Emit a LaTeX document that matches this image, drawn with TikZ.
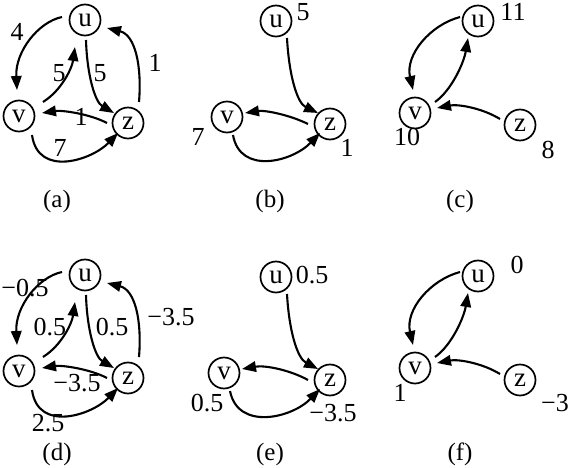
\documentclass[tikz,border=0pt]{standalone}
\usepackage{fontspec}
\setmainfont{Liberation Serif}
\usetikzlibrary{arrows.meta,calc}
\newcommand\vl[1]{\raisebox{-3pt}{#1}}
\begin{document}
\begin{tikzpicture}[x=1pt,y=-1pt,
  vtx/.style={circle,draw,line width=1.7pt,minimum size=31pt,inner sep=0pt,font=\fontsize{27}{28}\selectfont},
  edge/.style={line width=2.1pt,-{Triangle[length=14pt,width=10.5pt]}},
  lbl/.style={inner sep=0pt,font=\fontsize{26}{28}\selectfont},
  capt/.style={inner sep=0pt,font=\fontsize{25}{27}\selectfont}]
\useasboundingbox (0,0) rectangle (568,468);
% ---------- (a) ----------
\begin{scope}
\node[vtx] (ua) at (85,20) {\vl{u}};
\node[vtx] (va) at (19,116) {\vl{v}};
\node[vtx] (za) at (128,123) {\vl{z}};
\draw[edge] ($(ua)+(-23,-3)$) .. controls (38,22) and (15,52) .. ($(va)+(-2,-26)$);
\draw[edge] ($(va)+(24,-14)$) .. controls (62,90) and (72,68) .. ($(ua)+(-10,27)$);
\draw[edge] ($(ua)+(1,20)$) .. controls (87,75) and (95,102) .. ($(za)+(-14,-10)$);
\draw[edge] ($(za)+(11,-21)$) .. controls (142,65) and (135,35) .. ($(ua)+(22,8)$);
\draw[edge] ($(za)+(-21,0)$) .. controls (90,114) and (62,110) .. ($(va)+(23,-3)$);
\draw[edge] ($(va)+(13,19)$) .. controls (38,178) and (92,160) .. ($(za)+(-10,10)$);
\node[lbl] (la1) at (17,32) {4};
\node[lbl] (la2) at (59,73) {5};
\node[lbl] (la3) at (100,73) {5};
\node[lbl] (la4) at (155,63) {1};
\node[lbl] (la5) at (81,117) {1};
\node[lbl] (la6) at (60,148) {7};
\node[capt] (ca) at (57,201) {(a)};
\end{scope}
% ---------- (b) ----------
\begin{scope}[shift={(190,0)}]
\node[vtx] (ub) at (86,21) {\vl{u}};
\node[vtx] (vb) at (37,117) {\vl{v}};
\node[vtx] (zb) at (140,124) {\vl{z}};
\draw[edge] ($(ub)+(11,17)$) .. controls (99,75) and (107,103) .. ($(zb)+(-12,-11)$);
\draw[edge] ($(zb)+(-22,0)$) .. controls (100,115) and (75,110) .. ($(vb)+(18,-4)$);
\draw[edge] ($(vb)+(6,18)$) .. controls (50,175) and (102,162) .. ($(zb)+(-10,9)$);
\node[lbl] (lb1) at (113,12) {5};
\node[lbl] (lb2) at (8,137) {7};
\node[lbl] (lb3) at (157,148) {1};
\node[capt] (cb) at (80,201) {(b)};
\end{scope}
% ---------- (c) ----------
\begin{scope}[shift={(380,0)}]
\node[vtx] (uc) at (98,21) {\vl{u}};
\node[vtx] (vc) at (35,113) {\vl{v}};
\node[vtx] (zc) at (140,125) {\vl{z}};
\draw[edge] ($(uc)+(-18,-4)$) .. controls (50,25) and (25,55) .. ($(vc)+(-2,-23)$);
\draw[edge] ($(vc)+(20,-11)$) .. controls (72,90) and (84,62) .. ($(uc)+(-10,17)$);
\draw[edge] ($(zc)+(-20,-6)$) .. controls (102,108) and (78,104) .. ($(vc)+(22,-5)$);
\node[lbl] (lc1) at (133,12) {11};
\node[lbl] (lc2) at (27,137) {10};
\node[lbl] (lc3) at (168,150) {8};
\node[capt] (cc) at (80,201) {(c)};
\end{scope}
% ---------- (d) ----------
\begin{scope}[shift={(0,255)}]
\node[vtx] (ud) at (85,20) {\vl{u}};
\node[vtx] (vd) at (19,116) {\vl{v}};
\node[vtx] (zd) at (128,123) {\vl{z}};
\draw[edge] ($(ud)+(-23,-3)$) .. controls (38,22) and (15,52) .. ($(vd)+(-2,-26)$);
\draw[edge] ($(vd)+(24,-14)$) .. controls (62,90) and (72,68) .. ($(ud)+(-10,27)$);
\draw[edge] ($(ud)+(1,20)$) .. controls (87,75) and (95,102) .. ($(zd)+(-14,-10)$);
\draw[edge] ($(zd)+(11,-21)$) .. controls (142,65) and (135,35) .. ($(ud)+(22,8)$);
\draw[edge] ($(zd)+(-21,0)$) .. controls (90,114) and (62,110) .. ($(vd)+(23,-3)$);
\draw[edge] ($(vd)+(13,19)$) .. controls (38,178) and (92,160) .. ($(zd)+(-10,10)$);
\node[lbl] (ld1) at (25,33) {−0.5};
\node[lbl] (ld2) at (50,72) {0.5};
\node[lbl] (ld3) at (112,72) {0.5};
\node[lbl] (ld4) at (171,62) {−3.5};
\node[lbl] (ld5) at (77,128) {−3.5};
\node[lbl] (ld6) at (48,168) {2.5};
\node[capt] (cd) at (57,199) {(d)};
\end{scope}
% ---------- (e) ----------
\begin{scope}[shift={(190,255)}]
\node[vtx] (ue) at (86,22) {\vl{u}};
\node[vtx] (ve) at (34,118) {\vl{v}};
\node[vtx] (ze) at (140,125) {\vl{z}};
\draw[edge] ($(ue)+(11,17)$) .. controls (99,75) and (107,103) .. ($(ze)+(-12,-11)$);
\draw[edge] ($(ze)+(-22,0)$) .. controls (100,115) and (75,110) .. ($(ve)+(18,-4)$);
\draw[edge] ($(ve)+(6,18)$) .. controls (48,176) and (102,163) .. ($(ze)+(-10,9)$);
\node[lbl] (le1) at (122,20) {0.5};
\node[lbl] (le2) at (17,148) {0.5};
\node[lbl] (le3) at (143,158) {−3.5};
\node[capt] (ce) at (80,199) {(e)};
\end{scope}
% ---------- (f) ----------
\begin{scope}[shift={(380,255)}]
\node[vtx] (uf) at (98,21) {\vl{u}};
\node[vtx] (vf) at (35,113) {\vl{v}};
\node[vtx] (zf) at (140,125) {\vl{z}};
\draw[edge] ($(uf)+(-18,-4)$) .. controls (50,25) and (25,55) .. ($(vf)+(-2,-23)$);
\draw[edge] ($(vf)+(20,-11)$) .. controls (72,90) and (84,62) .. ($(uf)+(-10,17)$);
\draw[edge] ($(zf)+(-20,-6)$) .. controls (102,108) and (78,104) .. ($(vf)+(22,-5)$);
\node[lbl] (lf1) at (137,10) {0};
\node[lbl] (lf2) at (20,138) {1};
\node[lbl] (lf3) at (175,148) {−3};
\node[capt] (cf) at (80,199) {(f)};
\end{scope}
\end{tikzpicture}
\end{document}
